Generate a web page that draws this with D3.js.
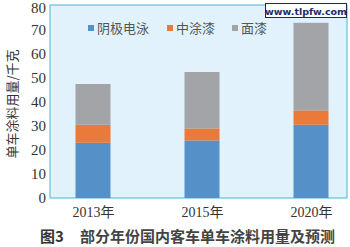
<!DOCTYPE html>
<html>
<head>
<meta charset="utf-8">
<script src="https://cdn.jsdelivr.net/npm/d3@7"></script>
<style>
  body { margin: 0; background: #fff; }
  svg { display: block; }
</style>
</head>
<body>
<svg width="350" height="247"></svg>
<script>
// chart data
const years = ["2013年", "2015年", "2020年"];
const seriesNames = ["阴极电泳", "中涂漆", "面漆"];
const electro = [23, 24, 30.5];
const primer = [7.5, 5, 6];
const topcoat = [17, 23.5, 36.5];
const yTicks = [0, 10, 20, 30, 40, 50, 60, 70, 80];
const colors = ["#5591c8", "#ea7a3a", "#a2a4a7"];

const svg = d3.select("svg");
const plot = {left: 50, top: 5, right: 347, bottom: 198};

const table = years.map(function(y, i) {
  return {year: y, "阴极电泳": electro[i], "中涂漆": primer[i], "面漆": topcoat[i]};
});
const stacked = d3.stack().keys(seriesNames)(table);

const x = d3.scalePoint()
    .domain(years)
    .range([plot.left + 43, plot.right - 36]);
const y = d3.scaleLinear()
    .domain([0, 80])
    .range([plot.bottom, plot.top + 1]);
const barW = 35;

// plot background
svg.append("rect")
    .attr("x", plot.left)
    .attr("y", plot.top)
    .attr("width", plot.right - plot.left)
    .attr("height", plot.bottom - plot.top)
    .attr("fill", "#e1f2fc")
    .attr("stroke", "#62c2da")
    .attr("stroke-width", 1.2);

// bars
svg.selectAll(".layer")
    .data(stacked)
    .enter().append("g")
    .attr("fill", function(d, i) { return colors[i]; })
    .selectAll("rect")
    .data(function(d) { return d; })
    .enter().append("rect")
    .attr("x", function(d) { return x(d.data.year) - barW / 2; })
    .attr("y", function(d) { return y(d[1]); })
    .attr("width", barW)
    .attr("height", function(d) { return y(d[0]) - y(d[1]); });

// y axis labels
const yAxis = svg.append("g")
    .attr("transform", "translate(" + (plot.left - 4) + ",0)")
    .call(d3.axisLeft(y).tickValues(yTicks).tickSize(0).tickPadding(0));
yAxis.select(".domain").remove();
yAxis.selectAll("text")
    .attr("font-family", "'Liberation Serif', 'DejaVu Serif', serif")
    .attr("font-size", 15)
    .attr("fill", "#333")
    .attr("dy", function(d) { return d === 80 ? "0.45em" : "0.32em"; });

// x axis labels
const xAxis = svg.append("g")
    .attr("transform", "translate(0," + plot.bottom + ")")
    .call(d3.axisBottom(x).tickSize(0).tickPadding(9));
xAxis.select(".domain").remove();
xAxis.selectAll("text")
    .attr("font-family", "'Liberation Serif', 'Noto Sans CJK SC', serif")
    .attr("font-size", 14)
    .attr("fill", "#333");

// y title
svg.append("text")
    .attr("transform", "translate(17,104) rotate(-90)")
    .attr("text-anchor", "middle")
    .attr("font-family", "'Noto Sans CJK SC', sans-serif")
    .attr("font-size", 13)
    .attr("fill", "#333")
    .text("单车涂料用量/千克");

// legend
const legendX = [88, 167, 232];
const legend = svg.selectAll(".legend")
    .data(seriesNames)
    .enter().append("g")
    .attr("transform", function(d, i) { return "translate(" + legendX[i] + ",28)"; });
legend.append("rect")
    .attr("x", 0)
    .attr("y", -3)
    .attr("width", 6)
    .attr("height", 6)
    .attr("fill", function(d, i) { return colors[i]; });
legend.append("text")
    .attr("x", 9)
    .attr("y", 5)
    .attr("font-family", "'Noto Sans CJK SC', sans-serif")
    .attr("font-size", 13)
    .attr("fill", "#555")
    .text(function(d) { return d; });

// watermark
svg.append("rect")
    .attr("x", 265.5)
    .attr("y", 3.5)
    .attr("width", 81)
    .attr("height", 14)
    .attr("fill", "#fff")
    .attr("stroke", "#1a2a5a")
    .attr("stroke-width", 1);
svg.append("text")
    .attr("x", 306)
    .attr("y", 14.5)
    .attr("text-anchor", "middle")
    .attr("font-family", "'DejaVu Sans', sans-serif")
    .attr("font-weight", "bold")
    .attr("font-size", 9.5)
    .attr("fill", "#1a2a6a")
    .text("www.tlpfw.com");

// caption
svg.append("text")
    .attr("x", 40)
    .attr("y", 242)
    .attr("font-family", "'Noto Sans CJK SC', sans-serif")
    .attr("font-weight", "bold")
    .attr("font-size", 15)
    .attr("fill", "#333")
    .text("图3");
svg.append("text")
    .attr("x", 80)
    .attr("y", 242)
    .attr("font-family", "'Noto Sans CJK SC', sans-serif")
    .attr("font-weight", "bold")
    .attr("font-size", 15)
    .attr("fill", "#444")
    .text("部分年份国内客车单车涂料用量及预测");
</script>
</body>
</html>
